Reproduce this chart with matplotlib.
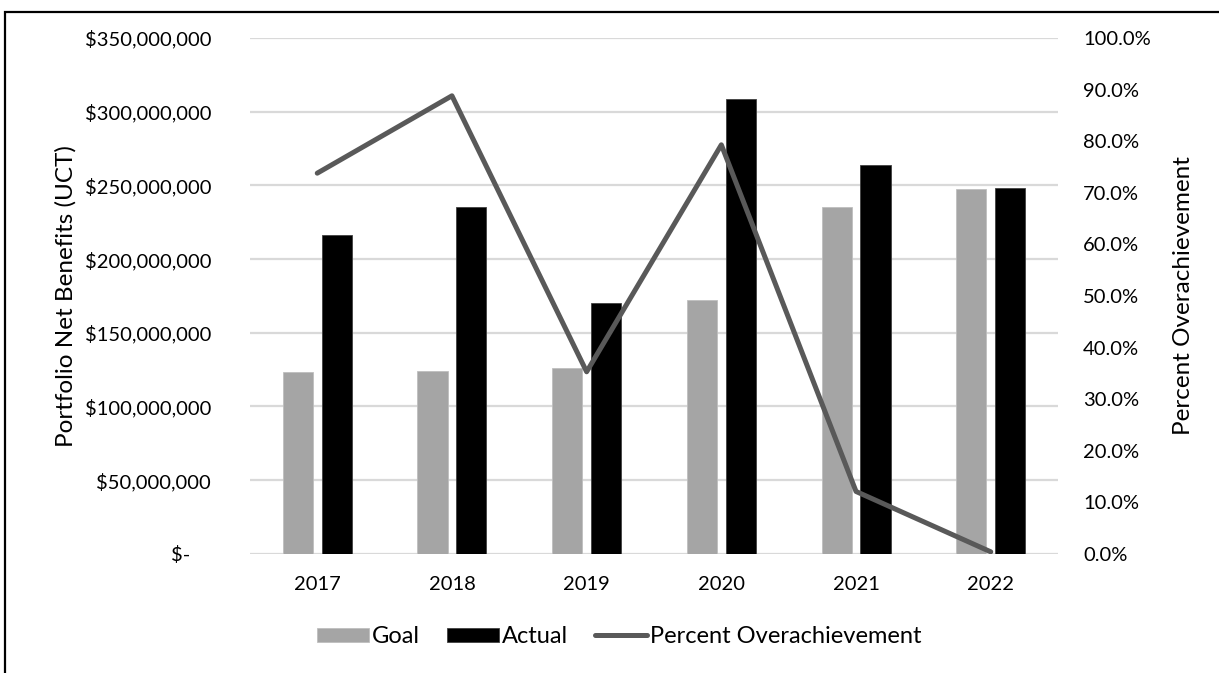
"""Goal vs. actual portfolio net benefits with percent overachievement."""
import matplotlib.pyplot as plt
import numpy as np
from matplotlib.patches import Rectangle
from matplotlib.ticker import FuncFormatter, MultipleLocator

years = ["2017", "2018", "2019", "2020", "2021", "2022"]
goal = [123.6e6, 124.4e6, 125.8e6, 172.0e6, 235.2e6, 247.3e6]
actual = [216.2e6, 235.4e6, 170.3e6, 308.4e6, 263.9e6, 248.5e6]
overachievement = [0.738, 0.888, 0.353, 0.793, 0.121, 0.004]

GOAL_COLOR = "#A5A5A5"
ACTUAL_COLOR = "#000000"
LINE_COLOR = "#595959"
GRID_COLOR = "#D9D9D9"
TEXT_COLOR = "#000000"

plt.rcParams["font.family"] = ["Lato", "DejaVu Sans"]
FS = 14.5
FS_TITLE = 17.5

fig = plt.figure(figsize=(12.19, 6.73), dpi=100)
ax = fig.add_axes([0.205, 0.177, 0.663, 0.7665])

x = np.arange(len(years))
width = 0.224
off = 0.144
ax.bar(x - off, goal, width, color=GOAL_COLOR, edgecolor="#BFBFBF",
       linewidth=0.6, label="Goal", zorder=2)
ax.bar(x + off, actual, width, color=ACTUAL_COLOR, edgecolor="#404040",
       linewidth=0.6, label="Actual", zorder=2)

ax.set_xlim(-0.5, len(years) - 0.5)
ax.set_ylim(0, 350e6)
ax.yaxis.set_major_locator(MultipleLocator(50e6))


def money(v, _pos):
    if v == 0:
        return "$-    "
    return f"${v:,.0f}"


ax.yaxis.set_major_formatter(FuncFormatter(money))
ax.set_xticks(x)
ax.set_xticklabels(years)
ax.grid(axis="y", color=GRID_COLOR, linewidth=1.6, zorder=0)
ax.set_axisbelow(True)
for s in ax.spines.values():
    s.set_visible(False)
ax.tick_params(axis="both", length=0, labelsize=FS, colors=TEXT_COLOR)
ax.tick_params(axis="x", pad=16)
ax.tick_params(axis="y", pad=28)
ax.set_ylabel("Portfolio Net Benefits (UCT)", fontsize=FS_TITLE, labelpad=6)

ax2 = ax.twinx()
ax2.plot(x, overachievement, color=LINE_COLOR, linewidth=3.6,
         solid_capstyle="round", solid_joinstyle="round",
         label="Percent Overachievement", zorder=3)
ax2.set_ylim(0, 1.0)
ax2.yaxis.set_major_locator(MultipleLocator(0.1))
ax2.yaxis.set_major_formatter(FuncFormatter(lambda v, _p: f"{v * 100:.1f}%"))
for s in ax2.spines.values():
    s.set_visible(False)
ax2.tick_params(axis="y", length=0, labelsize=FS, pad=18, colors=TEXT_COLOR)
ax2.set_ylabel("Percent Overachievement", fontsize=FS_TITLE, labelpad=16)

handles = [ax.containers[0], ax.containers[1], ax2.lines[0]]
fig.legend(handles, ["Goal", "Actual", "Percent Overachievement"],
           loc="center", bbox_to_anchor=(0.508, 0.054), ncol=3, frameon=False,
           fontsize=17, handlelength=2.2, handleheight=0.55,
           handletextpad=0.12, columnspacing=1.15)

# page frame around the chart
fig.add_artist(Rectangle((5 / 1219, -0.1), 1.2, 1 - 12 / 673 + 0.1,
                         transform=fig.transFigure, fill=False,
                         edgecolor="black", linewidth=1.6))

fig.savefig("out.png", dpi=100)
